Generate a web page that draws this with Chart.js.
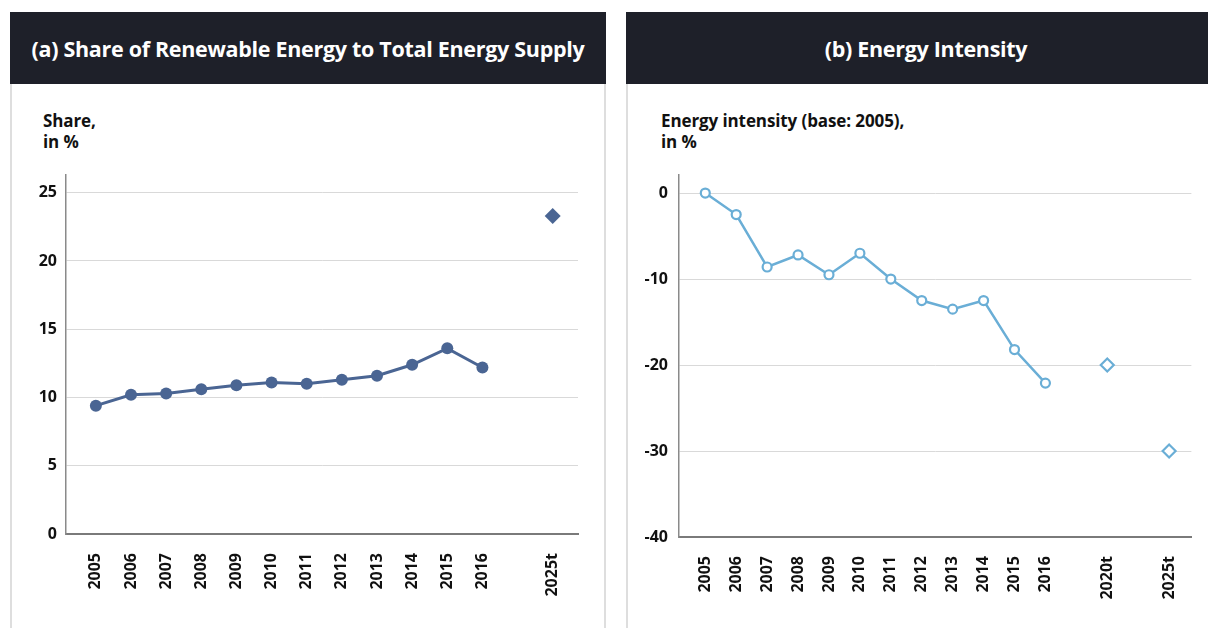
<!DOCTYPE html>
<html>
<head>
<meta charset="utf-8">
<script src="https://cdn.jsdelivr.net/npm/chart.js@4/dist/chart.umd.min.js"></script>
<style>
  body { margin: 0; background: #fff; width: 1208px; height: 628px; overflow: hidden; position: relative; font-family: "Open Sans", sans-serif; }
  .panel { position: absolute; top: 12px; height: 616px; border-left: 2px solid #dedede; border-right: 2px solid #dedede; box-sizing: border-box; }
  .hdr { position: absolute; left: -2px; right: -2px; top: 0; height: 72px; background: #1e2029; color: #fff;
         font-weight: 700; font-size: 21.5px; display: flex; align-items: center; justify-content: center; letter-spacing: -0.3px; }
  .ylab { position: absolute; top: 98px; font-weight: 700; font-size: 17px; line-height: 21px; color: #111; letter-spacing: -0.1px; }
  .box { position: absolute; }
</style>
</head>
<body>
<div class="panel" style="left:10px; width:596px;">
  <div class="hdr">(a) Share of Renewable Energy to Total Energy Supply</div>
  <div class="ylab" style="left:31px;">Share,<br>in %</div>
</div>
<div class="panel" style="left:626px; width:600px;">
  <div class="hdr">(b) Energy Intensity</div>
  <div class="ylab" style="left:33px;">Energy intensity (base: 2005),<br>in %</div>
</div>
<div class="box" style="left:12px; top:150px; width:592px; height:478px;"><canvas id="chartA"></canvas></div>
<div class="box" style="left:628px; top:150px; width:580px; height:478px;"><canvas id="chartB"></canvas></div>

<script>
// categories (blank entries keep the gap before the target years)
const catsA = ['2005', '2006', '2007', '2008', '2009', '2010', '2011', '2012', '2013', '2014', '2015', '2016', '', '2025t'];
const shareValues = [9.4, 10.2, 10.3, 10.6, 10.9, 11.1, 11.0, 11.3, 11.6, 12.4, 13.6, 12.2];
const shareTargetYears = ['2025t'];
const shareTargets = [23.3];
const shareTicks = [0, 5, 10, 15, 20, 25];

const catsB = ['2005', '2006', '2007', '2008', '2009', '2010', '2011', '2012', '2013', '2014', '2015', '2016', '', '2020t', '', '2025t'];
const intensityValues = [0, -2.5, -8.6, -7.2, -9.5, -7.0, -10.0, -12.5, -13.5, -12.5, -18.2, -22.1];
const intensityTargetYears = ['2020t', '2025t'];
const intensityTargets = [-20, -30];
const intensityTicks = [0, -10, -20, -30, -40];

const tickFont = { family: 'Open Sans', weight: '700', size: 16 };

function makeChart(id, cats, values, targetYears, targets, yTicks, opts) {
  const line = values.map((v, i) => ({ x: i, y: v }));
  const tgt = targets.map((v, i) => ({ x: cats.indexOf(targetYears[i]), y: v }));
  new Chart(document.getElementById(id), {
    type: 'line',
    data: {
      datasets: [
        {
          data: line,
          borderColor: opts.color,
          borderWidth: opts.lineWidth,
          pointRadius: opts.pointRadius,
          pointBackgroundColor: opts.hollow ? '#fff' : opts.color,
          pointBorderColor: opts.color,
          pointBorderWidth: opts.hollow ? 2.2 : 0,
          tension: 0
        },
        {
          data: tgt,
          showLine: false,
          pointStyle: 'rectRot',
          pointRadius: opts.diamond,
          pointBackgroundColor: opts.hollow ? '#fff' : opts.color,
          pointBorderColor: opts.color,
          pointBorderWidth: opts.hollow ? 2.2 : 0
        }
      ]
    },
    options: {
      responsive: true,
      maintainAspectRatio: false,
      animation: false,
      layout: { padding: { top: 25, right: opts.padRight, left: 0, bottom: 0 } },
      plugins: { legend: { display: false }, tooltip: { enabled: false } },
      scales: {
        x: {
          type: 'linear',
          min: -0.85,
          max: cats.length - 1 + 0.72,
          afterBuildTicks: s => { s.ticks = cats.map((c, i) => ({ value: i })); },
          afterFit: s => { s.height = opts.xHeight; },
          grid: { display: false, drawTicks: false },
          border: { display: true, color: '#7a7a7a', width: 2 },
          ticks: {
            autoSkip: false,
            minRotation: 90,
            maxRotation: 90,
            padding: 19,
            color: '#111',
            font: tickFont,
            callback: v => cats[v] || ''
          }
        },
        y: {
          min: opts.yMin,
          max: opts.yMax,
          afterBuildTicks: s => { s.ticks = yTicks.map(v => ({ value: v })); },
          afterFit: s => { s.width = opts.yWidth; },
          grid: { color: '#d9d9d9', lineWidth: 1, drawTicks: false },
          border: { display: true, color: '#8a8a8a', width: 1.5 },
          ticks: { padding: opts.yPad, color: '#111', font: tickFont }
        }
      }
    }
  });
}

makeChart('chartA', catsA, shareValues, shareTargetYears, shareTargets, shareTicks, {
  color: '#4a6593', lineWidth: 3, pointRadius: 6, hollow: false, diamond: 8,
  yMin: 0, yMax: 26.3, yWidth: 54, yPad: 9, padRight: 26, xHeight: 94
});
makeChart('chartB', catsB, intensityValues, intensityTargetYears, intensityTargets, intensityTicks, {
  color: '#6aaed6', lineWidth: 2.5, pointRadius: 4.5, hollow: true, diamond: 6.5,
  yMin: -40, yMax: 2.1, yWidth: 51, yPad: 11, padRight: 16, xHeight: 91
});
</script>
</body>
</html>
